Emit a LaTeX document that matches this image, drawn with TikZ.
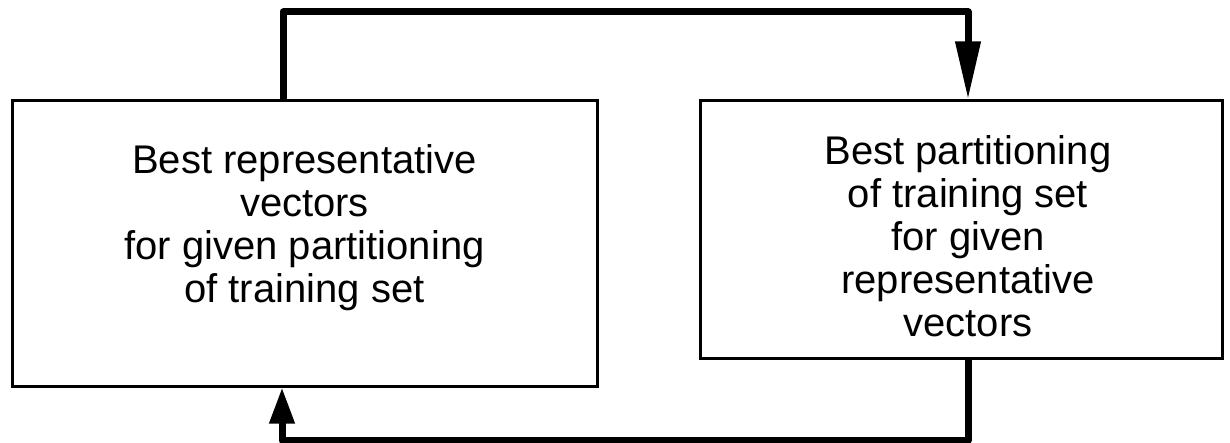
\documentclass[tikz,border=0pt]{standalone}
\usepackage{fontspec}
\setmainfont{Liberation Sans}
\usetikzlibrary{arrows.meta,calc}
\begin{document}
\begin{tikzpicture}[x=0.5pt,y=-0.5pt,
  box/.style={draw,line width=1.5pt,inner sep=0pt},
  txt/.style={align=center,inner sep=0pt,font=\fontsize{20}{21.5}\selectfont},
  conn/.style={line width=3.5pt,line join=round}]
\useasboundingbox (0,0) rectangle (1230,443);
\node[box,minimum width=292.5pt,minimum height=142.5pt] (L) at (304.5,243.5) {};
\node[txt] (Lt) at (304.5,228)
  {Best representative\\vectors\\for given partitioning\\of training set};
\node[box,minimum width=261pt,minimum height=128.5pt] (R) at (961,229.5) {};
\node[txt] (Rt) at (968,236)
  {Best partitioning\\of training set\\for given\\representative\\vectors};
\coordinate (t1) at (283,12);
\coordinate (t2) at (968,12);
\coordinate (b1) at (968,440);
\coordinate (b2) at (282,440);
\draw[conn,-{Triangle[length=29pt,width=12pt]}] (L.north -| t1) -- (t1) -- (t2) -- (R.north -| t2);
\draw[conn,-{Triangle[length=18pt,width=12pt]}] (R.south -| b1) -- (b1) -- (b2) -- (L.south -| b2);
\end{tikzpicture}
\end{document}
